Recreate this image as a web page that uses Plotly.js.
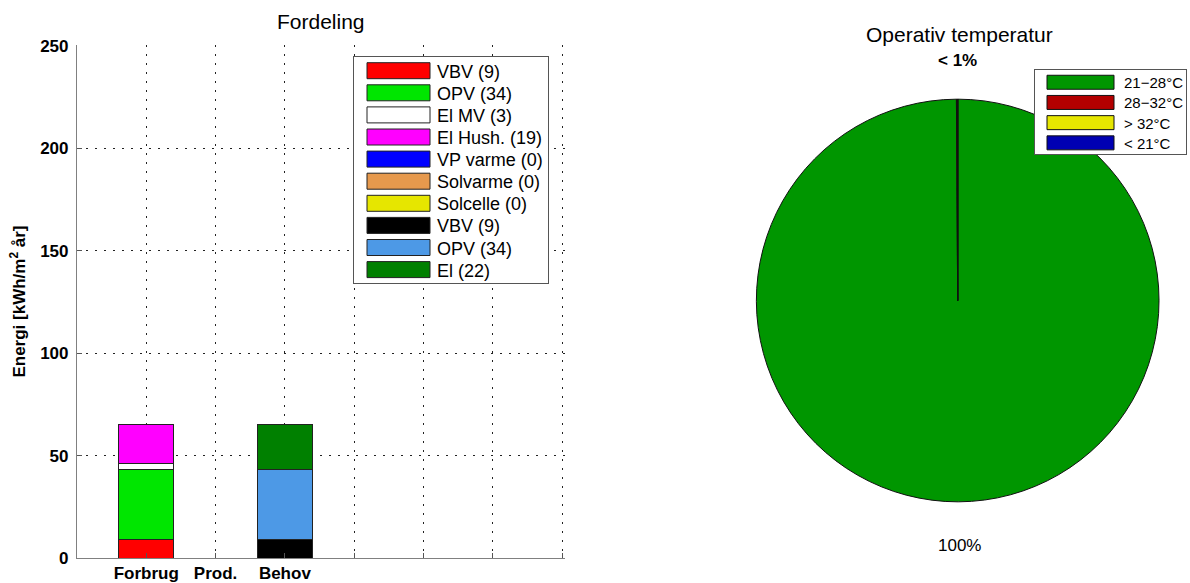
<!DOCTYPE html>
<html>
<head>
<meta charset="utf-8">
<script src="https://cdn.plot.ly/plotly-3.0.1.min.js"></script>
<style>
html,body{margin:0;padding:0;background:#fff;}
#chart{width:1190px;height:583px;}
</style>
</head>
<body>
<div id="chart"></div>
<script>
// ---- data ----
const categories = ['Forbrug', 'Prod.', 'Behov'];
const extraTicks = ['', '', '', ''];

const forbrugLabels = ['VBV', 'OPV', 'El MV', 'El Hush.'];
const forbrugValues = [9, 34, 3, 19];
const forbrugColors = ['#ff0000', '#00e600', '#ffffff', '#ff00ff'];

const prodLabels = ['VP varme', 'Solvarme', 'Solcelle'];
const prodValues = [0, 0, 0];
const prodColors = ['#0000ff', '#e6994d', '#e6e600'];

const behovLabels = ['VBV', 'OPV', 'El'];
const behovValues = [9, 34, 22];
const behovColors = ['#000000', '#4d99e6', '#008000'];

const tempLabels = ['21\u221228\u00b0C', '28\u221232\u00b0C', '> 32\u00b0C', '< 21\u00b0C'];
const tempValues = [99.9, 0.1, 0, 0];
const tempColors = ['#009600', '#b30000', '#e6e600', '#0000b3'];

// ---- traces ----
const FONT = 'Liberation Sans, Arial, sans-serif';
const traces = [];
function addGroup(catIndex, labels, values, colors) {
  labels.forEach((lab, i) => {
    traces.push({
      type: 'bar',
      x: [catIndex + 1],
      y: [values[i]],
      width: 0.8,
      name: lab + ' (' + values[i] + ')',
      marker: {color: colors[i], line: {color: '#222', width: 1}},
      hoverinfo: 'name+y'
    });
  });
}
addGroup(0, forbrugLabels, forbrugValues, forbrugColors);
addGroup(1, prodLabels, prodValues, prodColors);
addGroup(2, behovLabels, behovValues, behovColors);

traces.push({
  type: 'pie',
  labels: tempLabels,
  values: tempValues,
  sort: false,
  direction: 'clockwise',
  rotation: 0,
  marker: {colors: tempColors, line: {color: '#111', width: 1}},
  textinfo: 'none',
  legend: 'legend2',
  domain: {x: [757 / 1190, 1160 / 1190], y: [81 / 583, 484 / 583]}
});

const total = tempValues.reduce((a, b) => a + b, 0);
function pctText(v) {
  const p = 100 * v / total;
  return p < 1 ? '< 1%' : Math.round(p) + '%';
}

const tickvals = [1, 2, 3, 4, 5, 6, 7];
const ticktext = categories.concat(extraTicks);

const layout = {
  width: 1190, height: 583,
  margin: {l: 0, r: 0, t: 0, b: 0},
  paper_bgcolor: '#fff', plot_bgcolor: '#fff',
  font: {family: FONT, color: '#000'},
  barmode: 'stack',
  showlegend: true,
  xaxis: {
    domain: [77 / 1190, 565 / 1190],
    range: [0, 7.035],
    tickvals: tickvals, ticktext: ticktext,
    showgrid: true, gridcolor: '#222', griddash: '2px,7px', gridwidth: 1,
    zeroline: false,
    showline: true, linecolor: '#808080', linewidth: 1,
    ticks: 'inside', ticklen: 5, tickcolor: '#555',
    ticklabelstandoff: 0,
    tickfont: {size: 17, weight: 'bold', family: FONT},
    automargin: false, fixedrange: true
  },
  yaxis: {
    domain: [25 / 583, 538 / 583],
    range: [0, 250.4],
    tickvals: [0, 50, 100, 150, 200, 250],
    showgrid: true, gridcolor: '#222', griddash: '2px,7px', gridwidth: 1,
    zeroline: false,
    showline: true, linecolor: '#808080', linewidth: 1,
    ticks: 'inside', ticklen: 5, tickcolor: '#555',
    ticklabelstandoff: 4,
    tickfont: {size: 17, weight: 'bold', family: FONT},
    title: {text: 'Energi [kWh/m<sup>2</sup> år]', font: {size: 17, weight: 'bold', family: FONT}, standoff: 10},
    automargin: false, fixedrange: true
  },
  legend: {
    x: 353 / 1190, y: 1 - 56 / 583, xanchor: 'left', yanchor: 'top',
    bgcolor: '#fff', bordercolor: '#555', borderwidth: 1,
    font: {size: 18, family: FONT},
    traceorder: 'normal',
    itemwidth: 73, itemclick: false, itemdoubleclick: false
  },
  legend2: {
    x: 1035 / 1190, y: 1 - 69 / 583, xanchor: 'left', yanchor: 'top',
    bgcolor: '#fff', bordercolor: '#555', borderwidth: 1,
    font: {size: 15, family: FONT},
    traceorder: 'normal',
    itemwidth: 79, itemclick: false, itemdoubleclick: false
  },
  annotations: [
    {text: 'Fordeling', x: 321 / 1190, y: 1 - 22 / 583, xref: 'paper', yref: 'paper',
     xanchor: 'center', yanchor: 'middle',
     showarrow: false, font: {size: 21, family: FONT}},
    {text: 'Operativ temperatur', x: 960 / 1190, y: 1 - 34 / 583, xref: 'paper', yref: 'paper',
     xanchor: 'center', yanchor: 'middle',
     showarrow: false, font: {size: 21, family: FONT}},
    {text: pctText(tempValues[1]), x: 958 / 1190, y: 1 - 60 / 583, xref: 'paper', yref: 'paper',
     xanchor: 'center', yanchor: 'middle',
     showarrow: false, font: {size: 17, weight: 'bold', family: FONT}},
    {text: pctText(tempValues[0]), x: 960 / 1190, y: 1 - 545 / 583, xref: 'paper', yref: 'paper',
     xanchor: 'center', yanchor: 'middle',
     showarrow: false, font: {size: 17, family: FONT}}
  ]
};

function parseT(t) {
  const m = /translate\(\s*([-\d.e]+)[ ,]\s*([-\d.e]+)\s*\)/.exec(t || '');
  return m ? [parseFloat(m[1]), parseFloat(m[2])] : [0, 0];
}

// MATLAB-like legend: wide swatches, tighter rows
function styleLegend(gd, cls, o) {
  const leg = gd.querySelector('g.' + cls);
  if (!leg) return;
  leg.querySelectorAll('.legendpoints path').forEach(function (p) {
    p.setAttribute('d', o.swatch);
    p.removeAttribute('transform');
  });
  if (o.textX != null) {
    leg.querySelectorAll('text.legendtext').forEach(function (t) {
      t.setAttribute('x', o.textX);
      t.querySelectorAll('tspan[x]').forEach(function (s) { s.setAttribute('x', o.textX); });
    });
  }
  const items = leg.querySelectorAll('g.traces');
  if (items.length) {
    const t0 = parseT(items[0].getAttribute('transform'));
    items.forEach(function (it, i) {
      const t = parseT(it.getAttribute('transform'));
      it.setAttribute('transform', 'translate(' + t[0] + ',' + (t0[1] + o.dy + i * o.spacing) + ')');
    });
  }
  leg.querySelectorAll('rect.bg').forEach(function (r) {
    r.setAttribute('height', o.height);
    if (o.width) r.setAttribute('width', o.width);
  });
  // enlarge any clip region used inside the legend
  [leg].concat(Array.from(leg.querySelectorAll('[clip-path]'))).forEach(function (el) {
    const cp = el.getAttribute('clip-path');
    if (!cp) return;
    const m = /#([^'")]+)/.exec(cp);
    if (!m) return;
    const c = document.getElementById(m[1]);
    if (c) c.querySelectorAll('rect').forEach(function (r) {
      r.setAttribute('width', 2000); r.setAttribute('height', 2000);
    });
  });
}

Plotly.newPlot('chart', traces, layout, {displayModeBar: false, staticPlot: true}).then(function (gd) {
  styleLegend(gd, 'legend', {swatch: 'M13,-8H76V8H13Z', dy: -4.5, spacing: 22.1, height: 227});
  styleLegend(gd, 'legend2', {swatch: 'M12,-7H79V7H12Z', textX: 88, dy: -4, spacing: 20.2, height: 85, width: 152});
});
</script>
</body>
</html>
